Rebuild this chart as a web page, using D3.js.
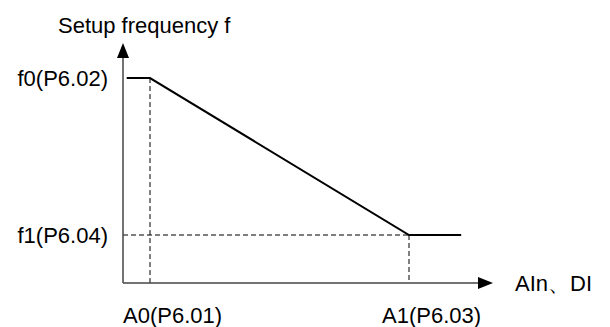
<!DOCTYPE html>
<html><head><meta charset="utf-8">
<script src="https://cdn.jsdelivr.net/npm/d3@7"></script>
<style>body{margin:0;background:#fff}svg{display:block}text{font-family:"Liberation Sans",Arial,sans-serif;fill:#000}</style>
</head><body><svg id="c" width="610" height="327"></svg>
<script>
// Data (arbitrary units: input on x, frequency on y)
const inputPoints = [1, 7.3, 77.3, 91.4];      // start, A0, A1, end of curve
const freqPoints  = [85.4, 85.4, 20, 20];       // f0, f0, f1, f1
const xMarks = [{name:"A0(P6.01)", v:7.3}, {name:"A1(P6.03)", v:77.3}];
const yMarks = [{name:"f0(P6.02)", v:85.4}, {name:"f1(P6.04)", v:20}];
const xTitle = "AIn、DI";
const yTitle = "Setup frequency f";

const svg = d3.select("#c");
const x = d3.scaleLinear().domain([0,100]).range([123,493]);
const y = d3.scaleLinear().domain([0,100]).range([283,43]);
const FS = 22;

// dashed guides
xMarks.forEach((m,i)=>{
  const yv = i===0 ? freqPoints[0] : freqPoints[2];
  svg.append("line").attr("x1",x(m.v)).attr("x2",x(m.v)).attr("y1",y(yv)).attr("y2",y(0))
    .attr("stroke","#000").attr("stroke-width",1).attr("stroke-dasharray","5,3");
});
svg.append("line").attr("x1",x(0)).attr("x2",x(xMarks[1].v)).attr("y1",y(yMarks[1].v)).attr("y2",y(yMarks[1].v))
  .attr("stroke","#000").attr("stroke-width",1).attr("stroke-dasharray","5,3");

// axes
svg.append("line").attr("x1",x(0)).attr("x2",x(96)).attr("y1",y(0)).attr("y2",y(0)).attr("stroke","#444").attr("stroke-width",1.5);
svg.append("line").attr("x1",x(0)).attr("x2",x(0)).attr("y1",y(0)).attr("y2",y(94)).attr("stroke","#444").attr("stroke-width",1.5);
svg.append("path").attr("d",`M${x(100)},${y(0)}L${x(100)-15},${y(0)-6}L${x(100)-15},${y(0)+6}Z`).attr("fill","#000");
svg.append("path").attr("d",`M${x(0)},${y(100)}L${x(0)-6},${y(100)+15}L${x(0)+6},${y(100)+15}Z`).attr("fill","#000");

// curve
const line = d3.line().x(d=>x(d[0])).y(d=>y(d[1]));
svg.append("path").datum(inputPoints.map((v,i)=>[v,freqPoints[i]])).attr("d",line)
  .attr("fill","none").attr("stroke","#000").attr("stroke-width",2);

// labels
yMarks.forEach(m=>svg.append("text").attr("x",108).attr("y",y(m.v)).attr("dy","0.35em")
  .attr("text-anchor","end").attr("font-size",FS).text(m.name));
xMarks.forEach(m=>svg.append("text").attr("x",x(m.v)-27).attr("y",315).attr("dy","0.35em")
  .attr("font-size",FS).text(m.name));
svg.append("text").attr("x",515).attr("y",y(0)).attr("dy","0.35em").attr("font-size",FS).text(xTitle);
svg.append("text").attr("x",58).attr("y",25).attr("dy","0.35em").attr("font-size",FS).text(yTitle);
</script></body></html>
